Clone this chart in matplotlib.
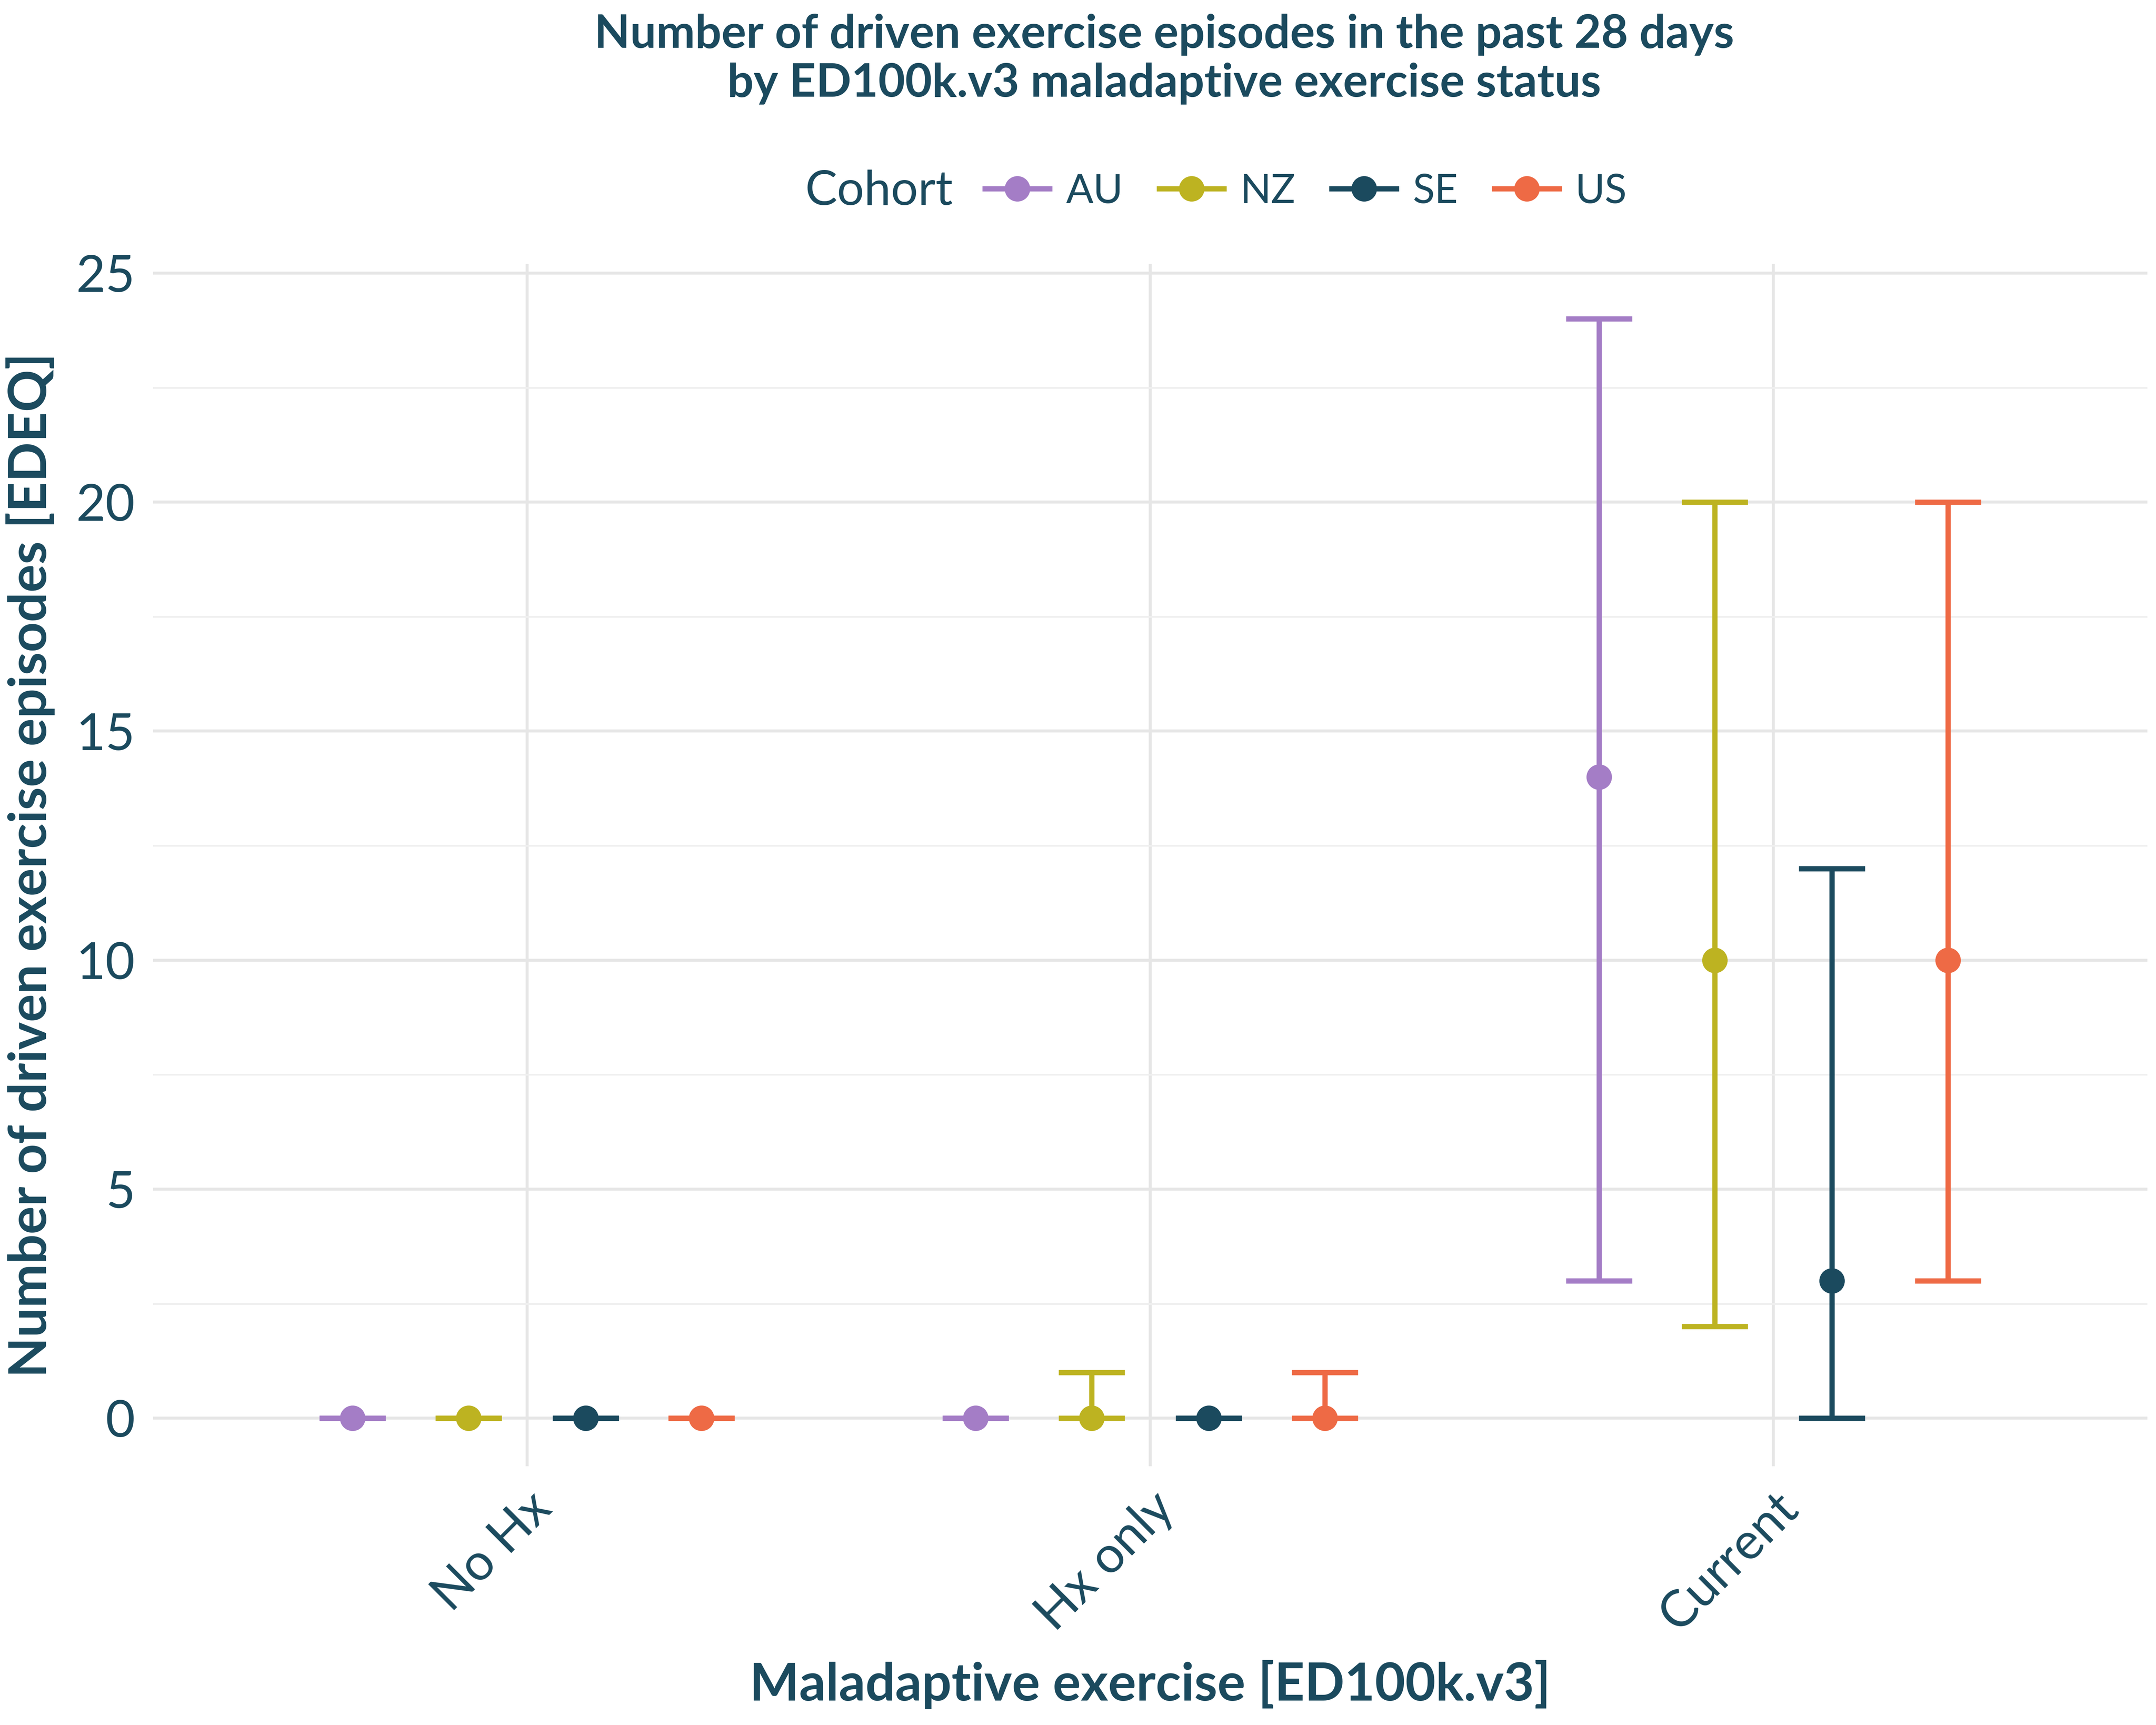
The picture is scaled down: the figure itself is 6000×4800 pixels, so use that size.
import numpy as np
import matplotlib.pyplot as plt
from matplotlib.lines import Line2D

categories = ["No Hx", "Hx only", "Current"]
cohorts = ["AU", "NZ", "SE", "US"]
colors = ["#A47DC6", "#BDB321", "#1B4A5E", "#EE6A45"]

medians = {
    "AU": [0, 0, 14],
    "NZ": [0, 0, 10],
    "SE": [0, 0, 3],
    "US": [0, 0, 10],
}
lower = {
    "AU": [0, 0, 3],
    "NZ": [0, 0, 2],
    "SE": [0, 0, 0],
    "US": [0, 0, 3],
}
upper = {
    "AU": [0, 0, 24],
    "NZ": [0, 1, 20],
    "SE": [0, 0, 12],
    "US": [0, 1, 20],
}

txt = "#1B4A5E"
plt.rcParams['font.family'] = ['Lato', 'DejaVu Sans']

fig = plt.figure(figsize=(20, 16), dpi=300)
ax = fig.add_axes([0.071, 0.15, 0.925, 0.697])

x = np.arange(len(categories))
offsets = [-0.28, -0.094, 0.094, 0.28]
for c, col, off in zip(cohorts, colors, offsets):
    m = np.array(medians[c]); lo = np.array(lower[c]); hi = np.array(upper[c])
    ax.errorbar(x + off, m, yerr=[m - lo, hi - m], fmt='o', color=col,
                ecolor=col, elinewidth=3.5, capsize=22, capthick=3.5,
                markersize=16, zorder=3)

ax.set_xlim(-0.6, 2.6)
ax.set_ylim(-1.05, 25.2)
ax.set_xticks(x)
ax.set_xticklabels(categories, rotation=45, ha='right', rotation_mode='anchor')
ax.set_yticks([0, 5, 10, 15, 20, 25])
ax.set_yticks(np.arange(2.5, 25, 5), minor=True)
ax.tick_params(axis='both', length=0, labelsize=34, labelcolor=txt, pad=12)
ax.tick_params(axis='y', which='minor', length=0)
ax.grid(True, which='major', color='#E6E6E6', linewidth=2)
ax.grid(True, which='minor', axis='y', color='#EFEFEF', linewidth=1.2)
for s in ax.spines.values():
    s.set_visible(False)
ax.set_axisbelow(True)

ax.set_xlabel("Maladaptive exercise [ED100k.v3]", fontsize=35, fontweight='bold', color=txt, labelpad=14)
ax.set_ylabel("Number of driven exercise episodes [EDEQ]", fontsize=35, fontweight='bold', color=txt, labelpad=14)

fig.suptitle("Number of driven exercise episodes in the past 28 days\nby ED100k.v3 maladaptive exercise status",
             fontsize=31, fontweight='bold', color=txt, y=0.992, x=0.54)

handles = [Line2D([], [], color=col, marker='o', markersize=16, linewidth=3.5) for col in colors]
fig.text(0.442, 0.889, "Cohort", fontsize=32, color=txt, ha='right', va='center')
fig.legend(handles, cohorts, loc='center left', bbox_to_anchor=(0.44, 0.889), ncol=4, frameon=False,
           fontsize=27, handletextpad=0.4, handlelength=1.6, columnspacing=0.9, labelcolor=txt)

fig.savefig("out.png", dpi=300)
